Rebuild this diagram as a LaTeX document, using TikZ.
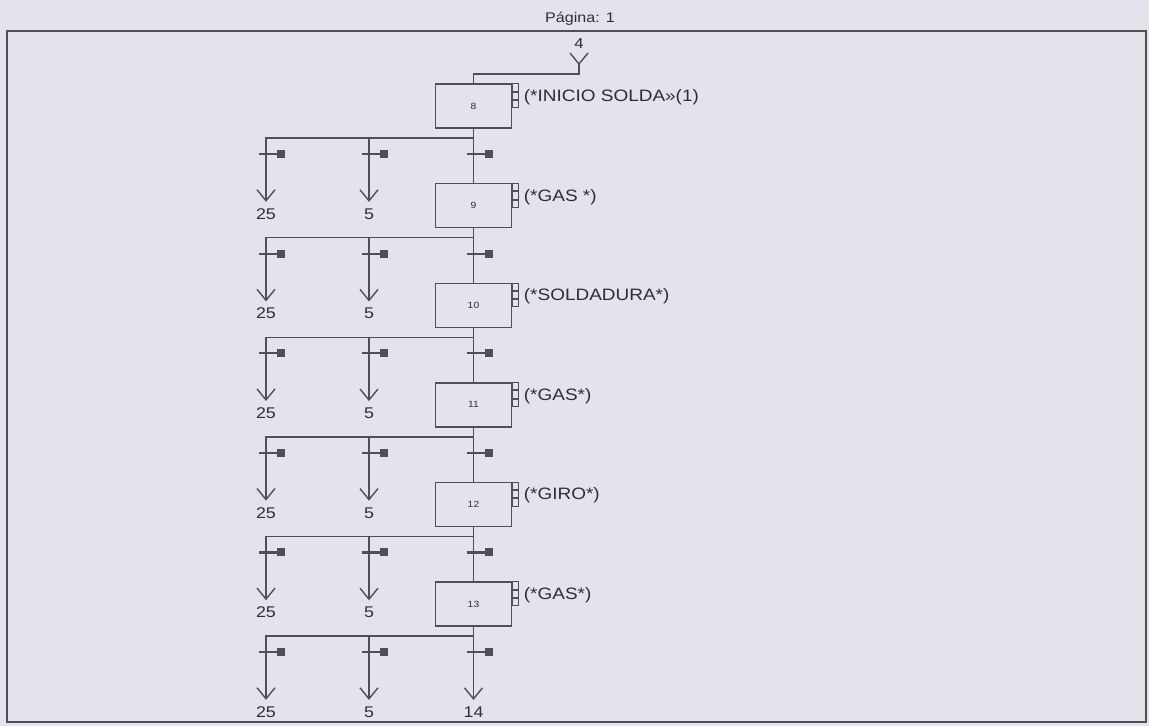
\documentclass[tikz,border=0pt]{standalone}
\usepackage{fontspec}
\setmainfont{Liberation Sans}[FakeStretch=1.15]
\usepackage{xcolor}
\usetikzlibrary{arrows.meta}
\definecolor{paper}{HTML}{E4E2EC}
\definecolor{ink}{HTML}{505054}
\definecolor{txt}{HTML}{2E2E34}

\begin{document}
\begin{tikzpicture}[x=1pt, y=-1pt, line width=1.4pt, every node/.style={text=txt, inner sep=0pt},
  stepbox/.style={draw=ink, minimum width=76pt, minimum height=44pt, font=\fontsize{9}{9}\selectfont},
  act/.style={anchor=west, font=\fontsize{16.5}{18}\selectfont},
  lbl/.style={font=\fontsize{15.5}{17}\selectfont},
  flag/.style={draw=ink, line width=1pt, minimum width=6pt, minimum height=7.3pt, anchor=north west},
  tmark/.style={fill=ink, minimum size=8pt},
  >={Straight Barb[length=11pt,width=18pt]}]
\fill[paper] (0,0) rectangle (1149,726);
\useasboundingbox (0,0) rectangle (1149,726);
\draw[ink, line width=1.5pt] (7,31) rectangle (1146,722);
\node[font=\fontsize{14}{16}\selectfont] (page) at (580,19) {Página: 1};
% steps with their exits
\foreach \n/\txt [count=\k from 0] in {8/{(*INICIO SOLDA»(1)}, 9/{(*GAS *)}, 10/{(*SOLDADURA*)}, 11/{(*GAS*)}, 12/{(*GIRO*)}, 13/{(*GAS*)}} {
  \pgfmathsetmacro\ytop{84+99.6*\k}
  \pgfmathsetmacro\yb{\ytop+44}
  \node[stepbox] (step\n) at (473.5,\ytop+22) {\n};
  \node[flag] (fa\n) at (step\n.north east) {};
  \node[flag] (fb\n) at (fa\n.south west) {};
  \node[flag] (fc\n) at (fb\n.south west) {};
  \node[act] (act\n) at ([shift={(11,14)}]step\n.north east) {\txt};
  \coordinate (br\n) at (473.5,\yb+10);
  \coordinate (bm\n) at (369,\yb+10);
  \coordinate (bl\n) at (266,\yb+10);
  \node[lbl] (to25\n) at (266,\yb+86) {25};
  \node[lbl] (to5\n) at (369,\yb+86) {5};
  \draw[ink] (step\n.south) -- (br\n);
  \draw[ink, ->, shorten >=6pt] (br\n) -- (bl\n) -- (to25\n.north);
  \draw[ink, ->, shorten >=6pt] (bm\n) -- (to5\n.north);
  \foreach \tx [count=\j] in {266,369,473.5} {
    \draw[ink, line width=2.2pt] (\tx-7,\yb+26) -- (\tx+11,\yb+26);
    \node[tmark] (t\n\j) at (\tx+15,\yb+26) {};
  }
}
\foreach \a/\b in {8/9, 9/10, 10/11, 11/12, 12/13}
  \draw[ink] (br\a) -- (step\b.north);
\node[lbl] (to14) at (473.5,712) {14};
\draw[ink, ->, shorten >=6pt] (br13) -- (to14.north);
% entry from step 4
\node[font=\fontsize{14.5}{16}\selectfont] (src) at (579,44) {4};
\coordinate (ya) at (570,53); \coordinate (yb) at (588,53); \coordinate (ytip) at (579,64);
\draw[ink] (ya) -- (ytip) -- (yb);
\draw[ink] (ytip) -- ++(0,10) -| (step8.north);
\end{tikzpicture}
\end{document}
